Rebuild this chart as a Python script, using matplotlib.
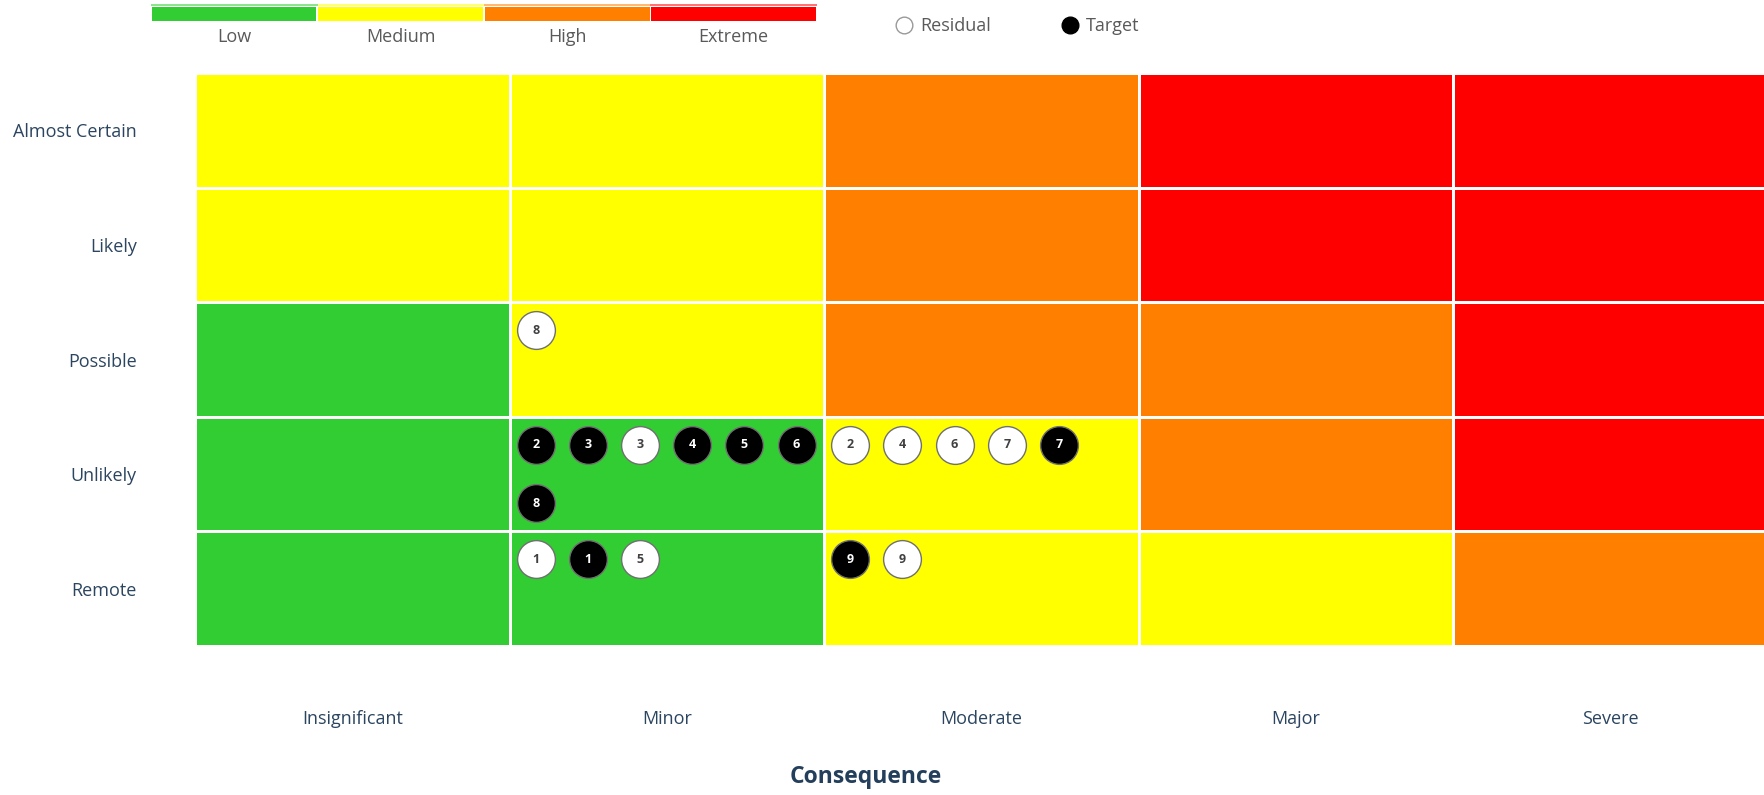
import matplotlib
matplotlib.use("Agg")
import matplotlib.pyplot as plt
import numpy as np
from matplotlib.colors import ListedColormap, to_rgba
from matplotlib.patches import Rectangle

# ---------------- data ----------------
likelihood = ["Remote", "Unlikely", "Possible", "Likely", "Almost Certain"]  # bottom -> top
consequence = ["Insignificant", "Minor", "Moderate", "Major", "Severe"]
levels = ["Low", "Medium", "High", "Extreme"]
level_colors = ["#32CD32", "#FFFF00", "#FF8000", "#FF0000"]

# risk level index per cell, rows bottom (Remote) -> top (Almost Certain)
risk_grid = [
    [0, 0, 1, 1, 2],  # Remote
    [0, 0, 1, 2, 3],  # Unlikely
    [0, 1, 2, 2, 3],  # Possible
    [1, 1, 2, 3, 3],  # Likely
    [1, 1, 2, 3, 3],  # Almost Certain
]

# markers: id, kind, consequence, likelihood (in display order within each cell)
risk_ids = [2, 3, 3, 4, 5, 6, 8, 2, 4, 6, 7, 7, 1, 1, 5, 9, 9, 8]
risk_kind = ["Target", "Target", "Residual", "Target", "Target", "Target", "Target",
             "Residual", "Residual", "Residual", "Residual", "Target",
             "Residual", "Target", "Residual",
             "Target", "Residual",
             "Residual"]
risk_cons = ["Minor"] * 7 + ["Moderate"] * 5 + ["Minor"] * 3 + ["Moderate"] * 2 + ["Minor"]
risk_like = ["Unlikely"] * 7 + ["Unlikely"] * 5 + ["Remote"] * 3 + ["Remote"] * 2 + ["Possible"]

# ---------------- figure ----------------
W, H = 1765, 795
fig = plt.figure(figsize=(W / 100, H / 100), dpi=100)
plt.rcParams["font.family"] = ["Open Sans", "DejaVu Sans"]

cell_w_px = 314.6
cell_h_px = 114.6
left_px, top_px = 195, 73
ax = fig.add_axes([left_px / W, 1 - (top_px + 5 * cell_h_px) / H,
                   5 * cell_w_px / W, 5 * cell_h_px / H])

cmap = ListedColormap(level_colors)
ax.pcolormesh(np.arange(6), np.arange(6), np.array(risk_grid), cmap=cmap,
              vmin=-0.5, vmax=3.5, edgecolors="white", linewidth=0.9)
ax.set_xlim(0, 5)
ax.set_ylim(0, 5)
for s in ax.spines.values():
    s.set_visible(False)

label_color = "#2B4560"
ax.set_yticks(np.arange(5) + 0.5)
ax.set_yticklabels(likelihood, fontsize=13, color=label_color)
ax.set_xticks(np.arange(5) + 0.5)
ax.set_xticklabels(consequence, fontsize=13, color=label_color)
ax.tick_params(axis="y", length=0, pad=42)
ax.tick_params(axis="x", length=0, pad=46)
fig.text(866 / W, 1 - 777 / H, "Consequence",
         ha="center", va="center", fontsize=16.5, fontweight="bold", color="#243F5C")

# markers
per_row = 6
dx0, ddx = 26 / cell_w_px, 52.2 / cell_w_px
dy0, ddy = 28 / cell_h_px, 58.5 / cell_h_px
counts = {}
for rid, kind, c, l in zip(risk_ids, risk_kind, risk_cons, risk_like):
    ci = consequence.index(c)
    li = likelihood.index(l)
    k = counts.get((ci, li), 0)
    counts[(ci, li)] = k + 1
    x = ci + dx0 + (k % per_row) * ddx
    y = li + 1 - dy0 - (k // per_row) * ddy
    face = "black" if kind == "Target" else "white"
    tcol = "white" if kind == "Target" else "#404040"
    ax.scatter([x], [y], s=740, c=face, edgecolors="#707070", linewidths=1.0, zorder=3)
    ax.text(x, y, str(rid), ha="center", va="center", fontsize=9,
            fontweight="bold", color=tcol, zorder=4)

# ---------------- legend (top) ----------------
bar_x = [152, 318.5, 485, 651.5]
bar_w = 164.5
for lx, name, col in zip(bar_x, levels, level_colors):
    fig.patches.append(Rectangle((lx / W, 1 - 21 / H), bar_w / W, 14 / H,
                                 transform=fig.transFigure, facecolor=col,
                                 edgecolor="none"))
    light = to_rgba(col)
    light = tuple(0.55 * v + 0.45 for v in light[:3])
    fig.patches.append(Rectangle(((lx - 1) / W, 1 - 5.5 / H), (bar_w + 2) / W, 1.2 / H,
                                 transform=fig.transFigure, facecolor=light,
                                 edgecolor="none"))
    fig.text((lx + bar_w / 2) / W, 1 - 37 / H, name, ha="center", va="center",
             fontsize=13, color="#595959")

fig.lines.append(plt.Line2D([904 / W], [1 - 25 / H], marker="o", markersize=12,
                            markerfacecolor="white", markeredgecolor="#999999",
                            markeredgewidth=1.0, transform=fig.transFigure))
fig.text(920 / W, 1 - 26 / H, "Residual", ha="left", va="center", fontsize=13,
         color="#595959")
fig.lines.append(plt.Line2D([1070 / W], [1 - 25 / H], marker="o", markersize=12,
                            markerfacecolor="black", markeredgecolor="black",
                            transform=fig.transFigure))
fig.text(1086 / W, 1 - 26 / H, "Target", ha="left", va="center", fontsize=13,
         color="#595959")

fig.savefig("out.png", dpi=100)
